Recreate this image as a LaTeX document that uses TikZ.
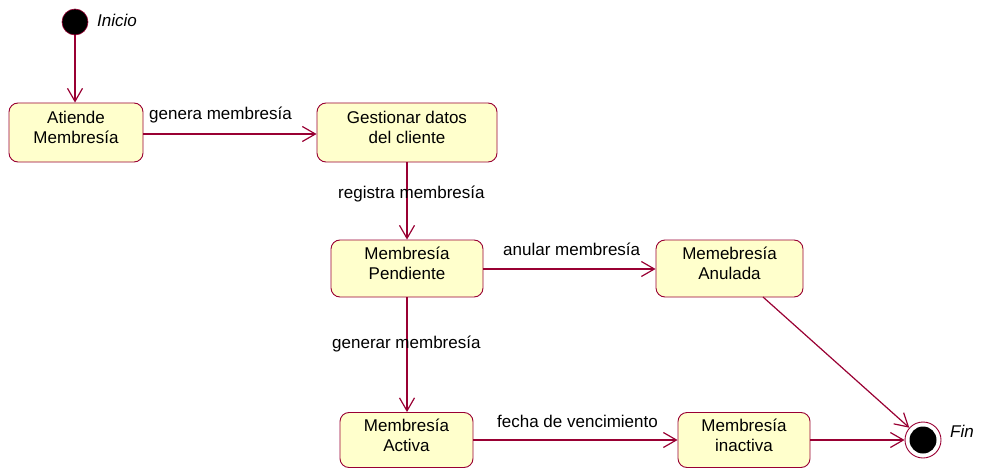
\documentclass[tikz,border=0pt]{standalone}
\usepackage{fontspec}
\setmainfont{Liberation Sans}
\usetikzlibrary{arrows.meta}
\definecolor{edgec}{RGB}{153,0,51}
\definecolor{boxfill}{RGB}{255,255,204}
\tikzset{
  statebox/.style={draw=edgec, fill=boxfill, rounded corners=9pt, line width=0.9pt, inner sep=0pt},
  stxt/.style={align=center, font=\fontsize{17}{20}\selectfont, inner sep=0pt, yshift=5pt},
  trans/.style={draw=edgec, line width=1.2pt, -{Straight Barb[length=13pt,width=15pt,line width=1.2pt]}},
  elbl/.style={font=\fontsize{17}{20}\selectfont, inner sep=0pt, anchor=base west},
  ilbl/.style={font=\fontsize{17}{20}\selectfont\itshape, inner sep=0pt, anchor=base west},
}
\begin{document}
\begin{tikzpicture}[x=1pt,y=-1pt]
\useasboundingbox (0,0) rectangle (982,468);
% states
\node[statebox, minimum width=134pt, minimum height=59pt] (atiende) at (76,132.5) {};
\node[stxt] (atiendet) at (atiende.center) {Atiende\\Membresía};
\node[statebox, minimum width=180pt, minimum height=59pt] (gest) at (407,132.5) {};
\node[stxt] (gestt) at (gest.center) {Gestionar datos\\del cliente};
\node[statebox, minimum width=152pt, minimum height=57pt] (pend) at (407,268.5) {};
\node[stxt] (pendt) at (pend.center) {Membresía\\Pendiente};
\node[statebox, minimum width=147pt, minimum height=57pt] (anul) at (729.5,268.5) {};
\node[stxt] (anult) at (anul.center) {Memebresía\\Anulada};
\node[statebox, minimum width=133pt, minimum height=55pt] (activa) at (406.5,440) {};
\node[stxt] (activat) at (activa.center) {Membresía\\Activa};
\node[statebox, minimum width=132pt, minimum height=55pt] (inact) at (744,440) {};
\node[stxt] (inactt) at (inact.center) {Membresía\\inactiva};
% start / end
\node[circle, fill=black, draw=edgec, line width=0.6pt, minimum size=26pt, inner sep=0pt] (start) at (75,22) {};
\node[ilbl] (inicio) at (97,27) {Inicio};
\node[circle, draw=edgec, fill=white, line width=0.9pt, minimum size=36pt, inner sep=0pt] (fin) at (923,440) {};
\node[circle, fill=black, minimum size=27pt, inner sep=0pt] (fininner) at (fin.center) {};
\node[ilbl] (finl) at (950,437) {Fin};
% transitions
\draw[trans] (start) -- (start |- atiende.north);
\draw[trans] (atiende.east |- 0,134) -- (gest.west |- 0,134);
\draw[trans] (gest.south) -- (pend.north);
\draw[trans] (pend.east |- 0,269) -- (anul.west |- 0,269);
\draw[trans] (pend.south) -- (pend.south |- activa.north);
\draw[trans] (activa) -- (inact);
\draw[trans] (inact) -- (fin);
\coordinate (anulout) at (763,297);
\draw[trans] (anulout) -- (fin);
% labels
\node[elbl] (l1) at (149,120) {genera membresía};
\node[elbl] (l2) at (338,198) {registra membresía};
\node[elbl] (l3) at (503,255) {anular membresía};
\node[elbl] (l4) at (332,348) {generar membresía};
\node[elbl] (l5) at (497,427) {fecha de vencimiento};
\end{tikzpicture}
\end{document}
